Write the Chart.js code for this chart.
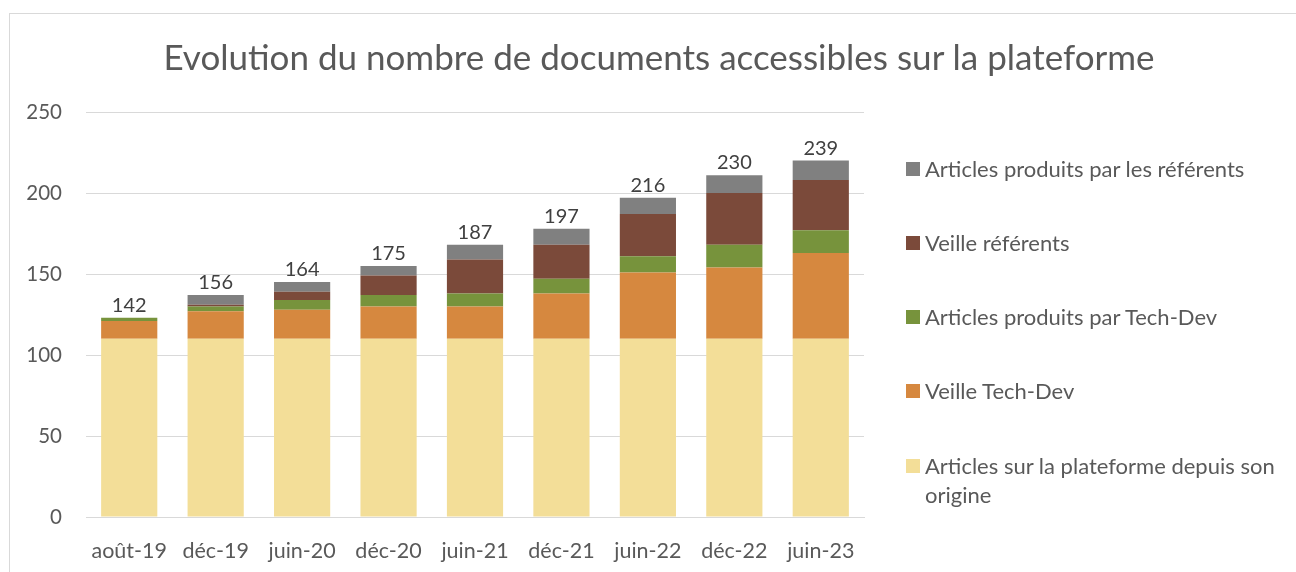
<!DOCTYPE html>
<html>
<head>
<meta charset="utf-8">
<script src="https://cdn.jsdelivr.net/npm/chart.js"></script>
<style>
  body { margin: 0; background: #fff; font-family: Lato, "Open Sans", sans-serif; }
  #wrap { position: relative; width: 1296px; height: 572px; overflow: hidden; }
  #frame { position: absolute; left: 9px; top: 13px; width: 1400px; height: 700px; border: 1px solid #d9d9d9; pointer-events: none; }
  #title { position: absolute; left: 9px; width: 1300px; top: 35px; text-align: center; font-size: 35px; color: #595959; }
  #legend { position: absolute; left: 906px; top: 0; }
  .item { position: absolute; left: 0; display: flex; align-items: flex-start; width: 390px; font-size: 22px; color: #595959; line-height: 29px; }
  .box { width: 14px; height: 14px; margin-top: 8px; margin-right: 5px; flex: none; }
</style>
</head>
<body>
<div id="wrap">
  <canvas id="chart" width="1296" height="572"></canvas>
  <div id="frame"></div>
  <div id="title">Evolution du nombre de documents accessibles sur la plateforme</div>
  <div id="legend"></div>
</div>
<script>
var periodes = ['août-19', 'déc-19', 'juin-20', 'déc-20', 'juin-21', 'déc-21', 'juin-22', 'déc-22', 'juin-23'];
var articlesOrigine = [110, 110, 110, 110, 110, 110, 110, 110, 110];
var veilleTechDev = [11, 17, 18, 20, 20, 28, 41, 44, 53];
var articlesTechDev = [2, 3, 6, 7, 8, 9, 10, 14, 14];
var veilleReferents = [0, 1, 5, 12, 21, 21, 26, 32, 31];
var articlesReferents = [0, 6, 6, 6, 9, 10, 10, 11, 12];
var totauxAffiches = [142, 156, 164, 175, 187, 197, 216, 230, 239];

var grid = '#d9d9d9';
var textColor = '#595959';

// étiquettes au-dessus des barres
var totalLabels = {
    id: 'totalLabels',
    afterDatasetsDraw: function (chart) {
        var ctx = chart.ctx;
        var meta = chart.getDatasetMeta(0);
        ctx.save();
        ctx.font = '20px Lato';
        ctx.fillStyle = '#404040';
        ctx.textAlign = 'center';
        ctx.textBaseline = 'alphabetic';
        periodes.forEach(function (p, i) {
            var sum = 0;
            chart.data.datasets.forEach(function (ds) { sum += ds.data[i]; });
            var x = meta.data[i].x;
            var y = chart.scales.y.getPixelForValue(sum);
            ctx.fillText(totauxAffiches[i], x, y - 6);
        });
        ctx.restore();
    }
};

var chart = new Chart(document.getElementById('chart'), {
    type: 'bar',
    data: {
        labels: periodes,
        datasets: [
            { label: 'Articles sur la plateforme depuis son origine', data: articlesOrigine, backgroundColor: '#f3de98' },
            { label: 'Veille Tech-Dev', data: veilleTechDev, backgroundColor: '#d6883f' },
            { label: 'Articles produits par Tech-Dev', data: articlesTechDev, backgroundColor: '#77933c' },
            { label: 'Veille référents', data: veilleReferents, backgroundColor: '#7b4a3a' },
            { label: 'Articles produits par les référents', data: articlesReferents, backgroundColor: '#808080' }
        ]
    },
    options: {
        responsive: false,
        animation: false,
        layout: { padding: { top: 112, right: 432, left: 0, bottom: 0 } },
        datasets: { bar: { barPercentage: 0.65, categoryPercentage: 1 } },
        plugins: { legend: { display: false }, tooltip: { enabled: false }, title: { display: false } },
        scales: {
            x: {
                stacked: true,
                grid: { display: false },
                border: { color: grid },
                ticks: { color: textColor, font: { family: 'Lato', size: 21.5 }, padding: 13, maxRotation: 0 },
                afterFit: function (s) { s.height = 55; }
            },
            y: {
                stacked: true,
                min: 0, max: 250,
                grid: { color: grid, drawTicks: false },
                border: { display: false },
                ticks: { stepSize: 50, color: textColor, font: { family: 'Lato', size: 20.5 }, padding: 24 },
                afterFit: function (s) { s.width = 86; }
            }
        }
    },
    plugins: [totalLabels]
});

// légende
var legend = document.getElementById('legend');
var tops = [154, 228, 302, 376, 451];
chart.data.datasets.slice().reverse().forEach(function (ds, i) {
    var item = document.createElement('div');
    item.className = 'item';
    item.style.top = tops[i] + 'px';
    item.innerHTML = '<span class="box" style="background:' + ds.backgroundColor + '"></span><span>' + ds.label + '</span>';
    legend.appendChild(item);
});
</script>
</body>
</html>
